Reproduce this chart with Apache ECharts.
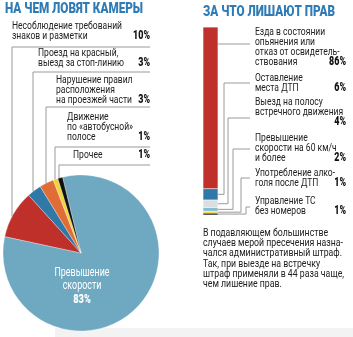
<!DOCTYPE html>
<html>
<head>
<meta charset="utf-8">
<script src="https://cdn.jsdelivr.net/npm/echarts@6/dist/echarts.min.js"></script>
<style>
  html, body { margin: 0; padding: 0; background: #fff; }
  #main { width: 353px; height: 337px; }
</style>
</head>
<body>
<div id="main"></div>
<script>
// left: what cameras catch
const pieNames = ['Превышение\nскорости', 'Несоблюдение требований\nзнаков и разметки',
  'Проезд на красный,\nвыезд за стоп-линию', 'Нарушение правил\nрасположения\nна проезжей части',
  'Движение\nпо «автобусной»\nполосе', 'Прочее'];
const pieValues = [83, 10, 3, 3, 1, 1];
const pieColors = ['#6fa9c1', '#c0302b', '#2f78a8', '#e06d36', '#f3d23a', '#111111'];

// right: what licences are taken for (top to bottom)
const barNames = ['Езда в состоянии\nопьянения или\nотказ от освидетель-\nствования', 'Оставление\nместа ДТП',
  'Выезд на полосу\nвстречного движения\n', 'Превышение\nскорости на 60 км/ч\nи более',
  'Употребление алко-\nголя после ДТП', 'Управление ТС\nбез номеров'];
const barValues = [86, 6, 4, 2, 1, 1];
const barColors = ['#c0302b', '#2f78a8', '#d9dee1', '#7fbcd0', '#f3d23a', '#111111'];

const titles = ['НА ЧЕМ ЛОВЯТ КАМЕРЫ', 'ЗА ЧТО ЛИШАЮТ ПРАВ'];
const note = 'В подавляющем большинстве\nслучаев мерой пресечения назна-\nчался административный штраф.\nТак, при выезде на встречку\nштраф применяли в 44 раза чаще,\nчем лишение прав.';

const FONT = 'Roboto, "Noto Sans", sans-serif';
const LINE = '#9a9a9a';
const LH = 10;

// no condensed font installed: squeeze text horizontally to the reference widths
const ctx = document.createElement('canvas').getContext('2d');
function fit(sample, font, target) { ctx.font = font; return target / ctx.measureText(sample).width; }
const bodyFont = '11.5px ' + FONT, boldFont = '900 12px ' + FONT, titleFont = '900 14px ' + FONT;
const sBody = fit('Несоблюдение требований', bodyFont, 110);
const sTitle = fit(titles[0], titleFont, 138);
const sNote = fit('случаев мерой пресечения назна-', bodyFont, 140);

function txt(x, y, text, font, fill, scale, extra) {
  return { type: 'text', x: x, y: y, scaleX: scale, z: 100,
    style: Object.assign({ text: text, font: font, fill: fill, lineHeight: LH }, extra || {}) };
}

const cx = 81, cy = 253, r = 78;
// label layout for pie slices 1..5: text x, first line centre y, connector x and y
const leftPos = [null,
  { x: 12, y: 26, lx: 12, ly: 47 },
  { x: 38, y: 53, lx: 33, ly: 72 },
  { x: 56, y: 80, lx: 46, ly: 107 },
  { x: 67, y: 117, lx: 55, ly: 147 },
  { x: 73, y: 155, lx: 59, ly: 165 }];
// right labels: first line centre y, hook y, vertical x
const rightPos = [
  { y: 32, hy: 44, vx: 0 },
  { y: 78, hy: 83, vx: 224 },
  { y: 102, hy: 118, vx: 228 },
  { y: 138, hy: 149, vx: 233 },
  { y: 173, hy: 178, vx: 241 },
  { y: 201, hy: 207, vx: 246 }];
const RX = 255;

const chart = echarts.init(document.getElementById('main'));

// stacking goes bottom-up, so reverse
const stackSeries = barValues.map((v, i) => i).reverse().map(i => ({
  type: 'bar', stack: 'a', barWidth: '100%', silent: true,
  data: [barValues[i]],
  itemStyle: { color: barColors[i], borderColor: '#fff', borderWidth: 0.3 }
}));

chart.setOption({
  animation: false,
  grid: { left: 203, width: 15, top: 27, bottom: 122 },
  xAxis: { type: 'category', data: [''], show: false },
  yAxis: { type: 'value', min: 0, max: 100, show: false },
  series: [{
    type: 'pie', center: [cx, cy], radius: r, startAngle: 103.7, clockwise: true,
    label: { show: false }, labelLine: { show: false }, silent: true,
    itemStyle: { borderColor: '#fff', borderWidth: 0.3 },
    data: pieValues.map((v, i) => ({ value: v, name: pieNames[i], itemStyle: { color: pieColors[i] } }))
  }].concat(stackSeries)
});

const g = [];
g.push({ type: 'rect', shape: { x: 55, y: 328, width: 298, height: 9 }, style: { fill: '#f3f3f3' }, z: -1 });
g.push(txt(5, 9, titles[0], titleFont, '#2f7bb5', sTitle, { verticalAlign: 'middle' }));
g.push(txt(203, 12, titles[1], titleFont, '#2f7bb5', sTitle, { verticalAlign: 'middle' }));

// pie labels
for (let i = 1; i < pieNames.length; i++) {
  const p = leftPos[i];
  const n = pieNames[i].split('\n').length;
  g.push(txt(p.x, p.y - LH / 2, pieNames[i], bodyFont, '#222', sBody));
  g.push(txt(150, p.y + (n - 1) * LH, pieValues[i] + '%', boldFont, '#111', sBody, { align: 'right', verticalAlign: 'middle' }));
  const endY = cy - Math.sqrt(r * r - (p.lx - cx) * (p.lx - cx));
  g.push({ type: 'polyline', z: 100, shape: { points: [[150, p.ly], [p.lx, p.ly], [p.lx, endY]] }, style: { stroke: LINE, lineWidth: 1, fill: null } });
}
g.push(txt(cx + 1, 273 - 6.5, pieNames[0], '12px ' + FONT, '#fff', sBody, { align: 'center', lineHeight: 13 }));
g.push(txt(cx + 1, 300, pieValues[0] + '%', '900 12.5px ' + FONT, '#fff', sBody, { align: 'center', verticalAlign: 'middle' }));

// bar labels
let below = 0;
const mids = [];
for (let i = barValues.length - 1; i >= 0; i--) { mids[i] = below + barValues[i] / 2; below += barValues[i]; }
for (let i = 0; i < barNames.length; i++) {
  const p = rightPos[i];
  const n = barNames[i].split('\n').length;
  g.push(txt(RX, p.y - LH / 2, barNames[i], bodyFont, '#222', sBody));
  g.push(txt(346, p.y + (n - 1) * LH, barValues[i] + '%', boldFont, '#111', sBody, { align: 'right', verticalAlign: 'middle' }));
  const segY = chart.convertToPixel({ xAxisIndex: 0, yAxisIndex: 0 }, [0, mids[i]])[1];
  const pts = i === 0 ? [[218, p.hy], [250, p.hy]] : [[218, segY], [p.vx, segY], [p.vx, p.hy], [250, p.hy]];
  g.push({ type: 'polyline', z: 100, shape: { points: pts }, style: { stroke: LINE, lineWidth: 1, fill: null } });
}
g.push(txt(203, 233 - 5, note, bodyFont, '#222', sNote, { lineHeight: 10.2 }));

chart.setOption({ graphic: g });
</script>
</body>
</html>
